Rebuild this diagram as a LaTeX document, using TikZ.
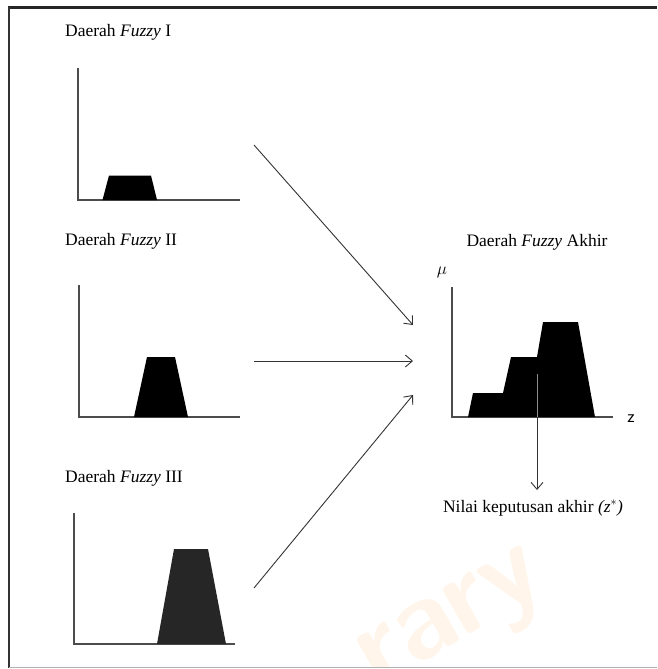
\documentclass[tikz,border=0pt]{standalone}
\usepackage{fontspec}
\setmainfont{Liberation Serif}
\usetikzlibrary{arrows.meta}
\begin{document}
\begin{tikzpicture}[x=1pt,y=-1pt,
  axis/.style={draw=black!70, line width=1.1pt},
  lbl/.style={font=\fontsize{17.5}{20}\selectfont, inner sep=0pt, anchor=base west},
  conn/.style={draw=black!80, line width=0.9pt, -{Straight Barb[length=7pt,width=12pt]}},
  mf/.style={fill=black}]
\useasboundingbox (0,0) rectangle (657,669);
\begin{scope}
\clip (9,8) rectangle (657,667);
\node[font=\sffamily\bfseries\fontsize{115}{115}\selectfont, text=orange!18, opacity=0.45, rotate=30] (wm) at (455,625) {rary};
\end{scope}
% frame
\draw[black!85, line width=2.5pt] (8,7.5) -- (657,7.5);
\draw[black!80, line width=2pt] (9,7) -- (9,668);
\draw[black!30, line width=1pt] (9,667.5) -- (657,667.5);
% labels
\node[lbl] (t1) at (65,37) {Daerah \textit{Fuzzy} I};
\node[lbl] (t2) at (65,245) {Daerah \textit{Fuzzy} II};
\node[lbl] (t3) at (65,482) {Daerah \textit{Fuzzy} III};
\node[lbl, anchor=base] (t4) at (537,246) {Daerah \textit{Fuzzy} Akhir};
% panel 1
\draw[axis] (78,68) -- (78,200) -- (240,200);
\fill[mf] (102.5,200) -- (109,175.5) -- (151,175.5) -- (157,200) -- cycle;
% panel 2
\draw[axis] (79,285) -- (79,417) -- (240,417);
\fill[mf] (134,417) -- (147,357) -- (175,357) -- (188,417) -- cycle;
% panel 3
\draw[axis] (74,513) -- (74,644) -- (235,644);
\fill[black!85] (157,644) -- (174,549) -- (208,549) -- (226,644) -- cycle;
% final panel
\draw[axis] (452,287) -- (452,417) -- (613,417);
\fill[mf] (468,417) -- (473,393) -- (503,393) -- (511,357) -- (537,357) -- (543,322) -- (578,322) -- (595,417) -- cycle;
\node[font=\fontsize{19}{22}\selectfont, inner sep=0pt] (mu) at (442,272) {$\mu$};
\node[font=\sffamily\fontsize{18}{22}\selectfont, inner sep=0pt] (z) at (631,419) {z};
\node[lbl, anchor=base] (nilai) at (533,512) {Nilai keputusan akhir \textit{(z}$^{*}$\textit{)}};
% arrows
\coordinate (a1s) at (254,145); \coordinate (a1e) at (413,325);
\coordinate (a2s) at (254,361); \coordinate (a2e) at (413,361);
\coordinate (a3s) at (254,588); \coordinate (a3e) at (413,395);
\draw[conn] (a1s) -- (a1e);
\draw[conn] (a2s) -- (a2e);
\draw[conn] (a3s) -- (a3e);
\coordinate (zs) at (537,374);
\coordinate (zb) at (537,417);
\coordinate (ze) at (537,490);
\draw[black!45, line width=0.8pt] (zs) -- (zb);
\draw[conn] (zb) -- (ze);
\end{tikzpicture}
\end{document}
